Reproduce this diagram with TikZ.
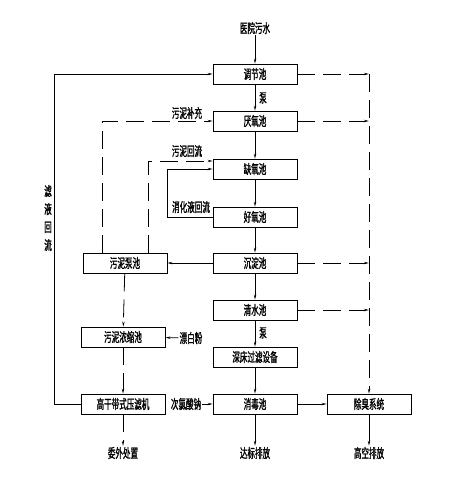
\documentclass[tikz,border=0pt]{standalone}
\usepackage{fontspec}
\newfontfamily\cjk[FakeStretch=0.58, FakeBold=1.2]{Noto Sans CJK SC}
\usetikzlibrary{arrows.meta,positioning,calc}
\tikzset{
  unit/.style={draw, line width=0.8pt, minimum width=84pt, minimum height=20pt,
    inner sep=0pt, font=\cjk\fontsize{13}{13}\selectfont},
  lbl/.style={inner sep=1pt, font=\cjk\fontsize{13}{18}\selectfont},
  flow/.style={line width=0.8pt, -{Stealth[length=5pt,width=2.4pt]}},
  sludge/.style={flow, dash pattern=on 18pt off 8pt},
}

\begin{document}
\begin{tikzpicture}[x=1pt, y=-1pt]
  \useasboundingbox (0,0) rectangle (458,479);

  % main treatment line
  \node[lbl] (inflow) at (255,28) {医院污水};
  \node[unit] (equal)  at (255,74)  {调节池};
  \node[unit] (anaer)  at (255,121) {厌氧池};
  \node[unit] (anox)   at (255,169) {缺氧池};
  \node[unit] (aero)   at (255,217) {好氧池};
  \node[unit] (settle) at (255,263) {沉淀池};
  \node[unit] (clear)  at (255,310) {清水池};
  \node[unit] (bed)    at (255,357) {深床过滤设备};
  \node[unit] (disinf) at (255,404) {消毒池};
  \node[lbl] (outlet)  at (255,453) {达标排放};

  % sludge line
  \node[unit] (spump)   at (125,263) {污泥泵池};
  \node[unit] (thicken) at (123,337) {污泥浓缩池};
  \node[unit] (press)   at (123,404) {高干带式压滤机};
  \node[lbl] (outside)  at (123,453) {委外处置};

  % odour line
  \node[unit] (deodor) at (369,404) {除臭系统};
  \node[lbl] (stack)   at (369,453) {高空排放};

  % labels
  \node[lbl] (pumpa)  at (263,98)  {泵};
  \node[lbl] (pumpb)  at (263,333) {泵};
  \node[lbl] (supply) at (187,113) {污泥补充};
  \node[lbl] (sret)   at (187,151) {污泥回流};
  \node[lbl] (nret)   at (191,207) {消化液回流};
  \node[lbl] (naclo)  at (186,404) {次氯酸钠};
  \node[lbl] (bleach) at (191,338) {漂白粉};
  \node[lbl, align=center] (filtrate) at (48,218) {滤\\液\\回\\流};

  \coordinate (fl) at (54,0);
  \coordinate (rl) at (167,0);

  \draw[flow] (inflow) -- (equal);
  \foreach \a/\b in {equal/anaer, anaer/anox, anox/aero, aero/settle,
                     settle/clear, clear/bed, bed/disinf, disinf/outlet,
                     deodor/stack}
    \draw[flow] (\a) -- (\b);
  \draw[flow] (settle) -- (spump);
  \draw[flow] (disinf) -- (deodor);
  \draw[flow] (naclo) -- (disinf);
  \draw[flow] (bleach) -- (thicken);
  \draw[flow] (aero.west) -- (aero.west -| rl) |- (anox.west);
  \draw[flow] (press.west) -- (press.west -| fl) |- (equal.west);

  \draw[sludge] (spump) -- (thicken);
  \draw[sludge] (thicken) -- (press);
  \draw[sludge] (press) -- (outside);
  \draw[sludge] ([xshift=-23pt]spump.north) |- (anaer.west);
  \draw[sludge] ([xshift=23pt]spump.north) |- ([yshift=8pt]anox.west);

  % foul air to deodorising
  \foreach \b in {equal, anaer, settle, clear}
    \draw[sludge] (\b.east) -- (\b.east -| deodor.north);
  \draw[sludge] (equal.east -| deodor.north) -- (deodor.north);
\end{tikzpicture}
\end{document}
